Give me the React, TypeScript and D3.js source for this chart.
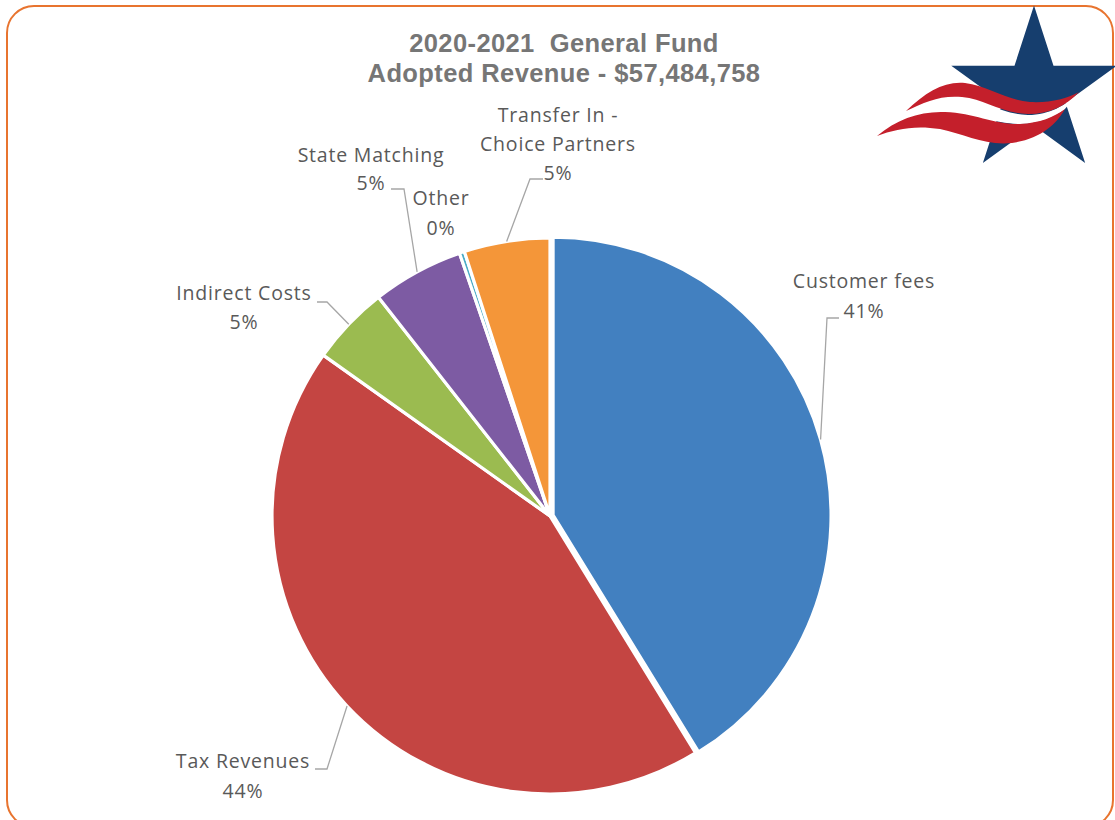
import React from "react";
import * as d3 from "d3";

// ---- data ----
const categories = ["Customer fees", "Tax Revenues", "Indirect Costs", "State Matching", "Other", "Transfer In - Choice Partners"];
const amounts = [23700000, 25060000, 2640000, 3050000, 170000, 2864758];
const labelNames = [["Customer fees"], ["Tax Revenues"], ["Indirect Costs"], ["State Matching"], ["Other"], ["Transfer In -", "Choice Partners"]];
const sliceColors = ["#4280C0", "#C44542", "#9BBB50", "#7D5BA3", "#4BACC6", "#F49639"];
const titleLines = ["2020-2021  General Fund", "Adopted Revenue - $57,484,758"];

// ---- layout ----
const W = 1115, H = 820;
const cx = 550, cy = 516, R = 278;
const explode = [3.2, 0, 0, 0, 0, 0];
// label anchor (center x, first baseline y), leader elbow & end (null = none)
const labelLayout = [
  { x: 864, y: 288, lh: 30, elbow: [827, 318], end: [839, 318] },
  { x: 243, y: 768, lh: 30, elbow: [327, 769], end: [315, 769] },
  { x: 244, y: 300, lh: 29, elbow: [327, 302], end: [317, 302] },
  { x: 371, y: 162, lh: 28, elbow: [404, 189], end: [391, 189] },
  { x: 441, y: 205, lh: 30, elbow: null, end: null },
  { x: 558, y: 122, lh: 29, elbow: [530, 179], end: [543, 179] },
];

const total = d3.sum(amounts);
const pct = (v: number) => `${Math.round((v / total) * 100)}%`;

function starPoints(scx: number, scy: number, ro: number, ri: number) {
  const pts: string[] = [];
  for (let i = 0; i < 10; i++) {
    const a = (i * Math.PI) / 5;
    const r = i % 2 === 0 ? ro : ri;
    pts.push(`${scx + r * Math.sin(a)},${scy - r * Math.cos(a)}`);
  }
  return pts.join(" ");
}

export default function App() {
  const pie = d3.pie<number>().sort(null).value((d) => d);
  const arcs = pie(amounts);
  const arcGen = d3.arc<d3.PieArcDatum<number>>().innerRadius(0).outerRadius(R);
  const labelFont = "'Open Sans', 'DejaVu Sans', sans-serif";

  return (
    <svg
      width={W}
      height={H}
      style={{ position: "absolute", left: 0, top: 0, display: "block", background: "#fff" }}
    >
      <rect x={7} y={6} width={1106} height={821} rx={27} ry={27} fill="#fff" stroke="#E8742F" strokeWidth={2} />

      {/* logo */}
      <g>
        <polygon points={starPoints(1034, 92.6, 87, 33.2)} fill="#163E6E" />
        <path
          d="M908,118 C925,104 940,97 962,98 C985,100 1000,114 1028,115 C1050,115 1065,105 1078,94 L1064,110 C1055,117 1040,124 1020,124 C995,124 975,113 945,112 C920,111 900,120 878,136 Z"
          fill="#fff"
        />
        <path
          d="M906,111 C926,92 944,81 965,83 C988,86 1006,100 1030,102 C1050,103 1066,99 1079,92 C1066,106 1050,114 1028,114 C1000,113 985,99 962,97 C940,95 925,102 906,111 Z"
          fill="#C41F2B"
        />
        <path
          d="M877,136 C897,119 920,111 945,112 C975,113 995,125 1020,124 C1040,123 1054,117 1065,109 C1056,125 1040,139 1012,143 C985,146 965,134 940,129 C915,125 895,129 877,136 Z"
          fill="#C41F2B"
        />
      </g>

      {/* title */}
      <g fontFamily="'Liberation Sans', Arial, sans-serif" fontWeight="bold" fontSize={25.5} fill="#767676" textAnchor="middle">
        {titleLines.map((t, i) => (
          <text key={i} x={564} y={52 + i * 29.5} style={{ whiteSpace: "pre" }} letterSpacing={0.4}>
            {t}
          </text>
        ))}
      </g>

      {/* slices */}
      <g transform={`translate(${cx},${cy})`}>
        {arcs.map((a, i) => {
          const mid = (a.startAngle + a.endAngle) / 2;
          const dx = explode[i] * Math.sin(mid);
          const dy = -explode[i] * Math.cos(mid);
          return (
            <path
              key={categories[i]}
              d={arcGen(a) || ""}
              transform={`translate(${dx},${dy})`}
              fill={sliceColors[i]}
              stroke="#fff"
              strokeWidth={3.2}
              strokeLinejoin="round"
            />
          );
        })}
      </g>

      {/* leaders */}
      <g fill="none" stroke="#A6A6A6" strokeWidth={1.3}>
        {arcs.map((a, i) => {
          const L = labelLayout[i];
          if (!L.elbow || !L.end) return null;
          const mid = (a.startAngle + a.endAngle) / 2;
          const r = R + explode[i];
          const sx = cx + r * Math.sin(mid);
          const sy = cy - r * Math.cos(mid);
          return (
            <polyline
              key={i}
              points={`${sx},${sy} ${L.elbow[0]},${L.elbow[1]} ${L.end[0]},${L.end[1]}`}
            />
          );
        })}
      </g>

      {/* labels */}
      <g fontFamily={labelFont} fontSize={19.5} fill="#595959" textAnchor="middle" letterSpacing={0.8}>
        {arcs.map((a, i) => {
          const L = labelLayout[i];
          const lines = [...labelNames[i], pct(amounts[i])];
          return (
            <text key={i}>
              {lines.map((ln, j) => (
                <tspan key={j} x={L.x} y={L.y + j * L.lh}>
                  {ln}
                </tspan>
              ))}
            </text>
          );
        })}
      </g>
    </svg>
  );
}
